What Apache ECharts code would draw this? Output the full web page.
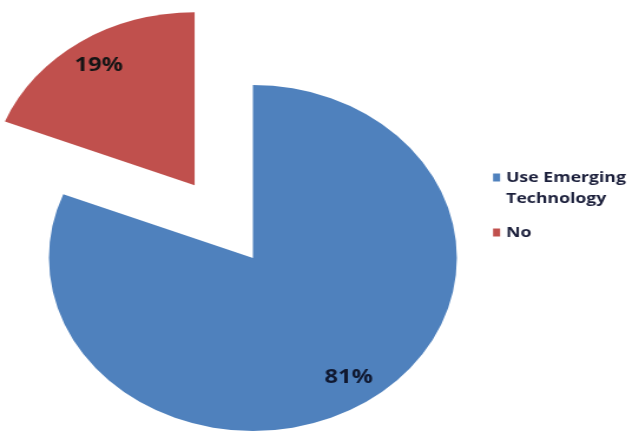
<!DOCTYPE html>
<html>
<head>
<meta charset="utf-8">
<title>Use of Emerging Technology</title>
<script src="https://cdn.jsdelivr.net/npm/echarts@6/dist/echarts.min.js"></script>
<style>
  html, body { margin: 0; padding: 0; background: #fff; overflow: hidden; }
  /* The chart is drawn narrower and widened horizontally, giving the oval pie */
  #chart { width: 535px; height: 431px; transform: scaleX(1.179); transform-origin: 0 0; }
</style>
</head>
<body>
<div id="chart"></div>
<script>
const categories = ['Use Emerging Technology', 'No'];
const shares = [81, 19];
const legendLabels = ['Use Emerging\nTechnology', 'No'];
const colors = ['#4f81bd', '#c0504d'];

const chart = echarts.init(document.getElementById('chart'), null, { renderer: 'canvas' });

const sliceData = categories.map((name, i) => ({
  name: name,
  value: shares[i],
  selected: name === 'No',
  itemStyle: { color: colors[i] }
}));

const common = {
  type: 'pie',
  center: [214.5, 258],
  startAngle: 90,
  clockwise: true,
  selectedMode: 'single',
  selectedOffset: 88,
  avoidLabelOverlap: false,
  labelLine: { show: false },
  emphasis: { disabled: true },
  animation: false
};

chart.setOption({
  animation: false,
  legend: {
    orient: 'vertical',
    left: 418.2,
    top: 146,
    padding: 0,
    itemWidth: 6,
    itemHeight: 8,
    itemGap: 13,
    icon: 'rect',
    selectedMode: false,
    data: categories,
    textStyle: {
      fontFamily: 'Open Sans',
      fontWeight: 'bold',
      fontSize: 15,
      lineHeight: 21,
      color: '#1b1f3b'
    },
    // leading blank lines keep the marker level with the first text line
    formatter: function (name) {
      const text = legendLabels[categories.indexOf(name)];
      return '\n'.repeat(text.split('\n').length - 1) + text;
    }
  },
  series: [
    Object.assign({}, common, {
      name: 'slices',
      radius: [0, 173],
      label: { show: false },
      data: sliceData
    }),
    // transparent ring that carries the percentage labels near the rim
    Object.assign({}, common, {
      name: 'labels',
      radius: [110, 173],
      silent: true,
      itemStyle: { color: 'rgba(0,0,0,0)' },
      label: {
        show: true,
        position: 'inside',
        formatter: '{c}%',
        fontFamily: 'Open Sans',
        fontWeight: 'bold',
        fontSize: 20,
        color: '#151a28'
      },
      data: categories.map((name, i) => ({
        name: name,
        value: shares[i],
        selected: name === 'No',
        itemStyle: { color: 'rgba(0,0,0,0)' },
        label: { color: i === 0 ? '#101830' : '#151515' }
      }))
    })
  ]
});
</script>
</body>
</html>
